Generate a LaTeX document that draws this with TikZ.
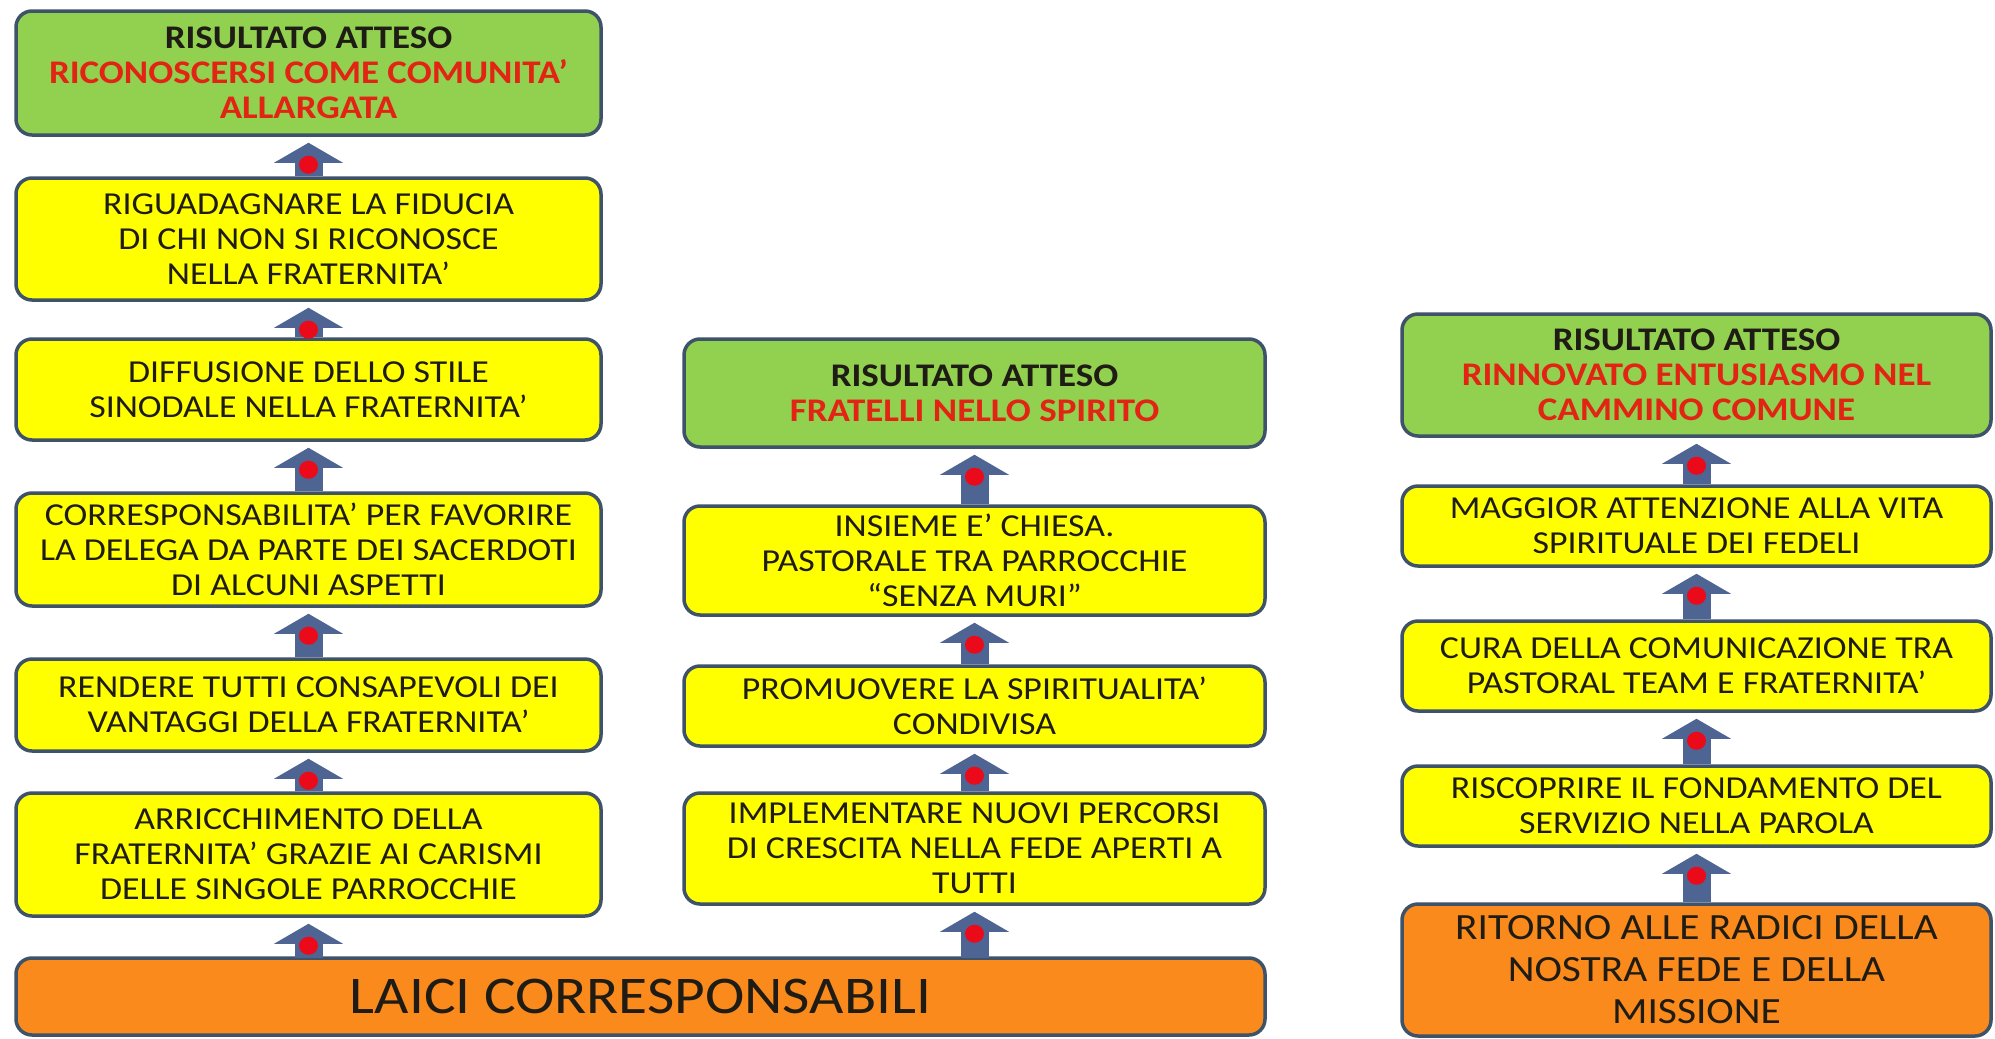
\documentclass[tikz,border=0pt]{standalone}
\usepackage{fontspec}
\setmainfont{Carlito}[FakeStretch=1.12]
\usetikzlibrary{arrows.meta}

\definecolor{boxline}{RGB}{62,82,106}
\definecolor{boxgreen}{RGB}{146,208,80}
\definecolor{boxyellow}{RGB}{255,255,0}
\definecolor{boxorange}{RGB}{250,138,28}
\definecolor{arrowblue}{RGB}{78,100,146}
\definecolor{dotred}{RGB}{235,10,25}
\definecolor{titlered}{RGB}{226,36,20}
\definecolor{textdark}{RGB}{30,28,20}

\tikzset{
  box/.style={draw=boxline, line width=3.5pt, rounded corners=16pt, align=center,
    inner sep=0pt, text=textdark, font=\fontsize{32}{35}\selectfont},
  greenbox/.style={box, fill=boxgreen, font=\fontsize{33}{35}\selectfont\bfseries},
  yellowbox/.style={box, fill=boxyellow},
  orangebox/.style={box, fill=boxorange},
  colA/.style={minimum width=585pt},
  colB/.style={minimum width=581pt},
  colC/.style={minimum width=589pt},
  blockarr/.style={draw=arrowblue, line width=28pt,
    -{Triangle[length=20pt 0, width=68pt 0]}},
}

% Blockpfeil von #1 nach #2
\newcommand{\blockup}[2]{%
  \draw[blockarr] (#1.north) -- ([yshift=-6pt]#2.south);
  \fill[dotred] ([yshift=-28pt]#2.south) ellipse (9.5pt and 9pt);}

\begin{document}
\begin{tikzpicture}[x=1pt, y=-1pt]
\useasboundingbox (0,0) rectangle (1995,1039);

% Spalte 1
\node[greenbox, colA, minimum height=124pt] (g1) at (308.5,73)
  {RISULTATO ATTESO\\ \textcolor{titlered}{RICONOSCERSI COME COMUNITA’}\\ \textcolor{titlered}{ALLARGATA}};
\node[yellowbox, colA, minimum height=122pt] (y1) at (308.5,239)
  {RIGUADAGNARE LA FIDUCIA\\ DI CHI NON SI RICONOSCE\\ NELLA FRATERNITA’};
\node[yellowbox, colA, minimum height=101pt] (y2) at (308.5,389.5)
  {DIFFUSIONE DELLO STILE\\ SINODALE NELLA FRATERNITA’};
\node[yellowbox, colA, minimum height=113pt] (y3) at (308.5,549.5)
  {CORRESPONSABILITA’ PER FAVORIRE\\ LA DELEGA DA PARTE DEI SACERDOTI\\ DI ALCUNI ASPETTI};
\node[yellowbox, colA, minimum height=92pt] (y4) at (308.5,705)
  {RENDERE TUTTI CONSAPEVOLI DEI\\ VANTAGGI DELLA FRATERNITA’};
\node[yellowbox, colA, minimum height=123pt] (y5) at (308.5,854.5)
  {ARRICCHIMENTO DELLA\\ FRATERNITA’ GRAZIE AI CARISMI\\ DELLE SINGOLE PARROCCHIE};

% Basis links
\node[orangebox, minimum width=1249pt, minimum height=77pt,
  font=\fontsize{53}{60}\selectfont] (laici) at (640.5,996.5) {LAICI CORRESPONSABILI};

% Spalte 2
\node[greenbox, colB, minimum height=108pt] (g2) at (974.5,393)
  {RISULTATO ATTESO\\ \textcolor{titlered}{FRATELLI NELLO SPIRITO}};
\node[yellowbox, colB, minimum height=109pt] (y6) at (974.5,560.5)
  {INSIEME E’ CHIESA.\\ PASTORALE TRA PARROCCHIE\\ “SENZA MURI”};
\node[yellowbox, colB, minimum height=80pt] (y7) at (974.5,706)
  {PROMUOVERE LA SPIRITUALITA’\\ CONDIVISA};
\node[yellowbox, colB, minimum height=111pt] (y8) at (974.5,848.5)
  {IMPLEMENTARE NUOVI PERCORSI\\ DI CRESCITA NELLA FEDE APERTI A\\ TUTTI};

% Spalte 3
\node[greenbox, colC, minimum height=122pt] (g3) at (1696.5,375)
  {RISULTATO ATTESO\\ \textcolor{titlered}{RINNOVATO ENTUSIASMO NEL}\\ \textcolor{titlered}{CAMMINO COMUNE}};
\node[yellowbox, colC, minimum height=80pt] (y9) at (1696.5,526)
  {MAGGIOR ATTENZIONE ALLA VITA\\ SPIRITUALE DEI FEDELI};
\node[yellowbox, colC, minimum height=90pt] (y10) at (1696.5,666)
  {CURA DELLA COMUNICAZIONE TRA\\ PASTORAL TEAM E FRATERNITA’};
\node[yellowbox, colC, minimum height=80pt] (y11) at (1696.5,806)
  {RISCOPRIRE IL FONDAMENTO DEL\\ SERVIZIO NELLA PAROLA};
\node[orangebox, colC, minimum height=132pt, font=\fontsize{37}{42}\selectfont] (o2) at (1696.5,970)
  {RITORNO ALLE RADICI DELLA\\ NOSTRA FEDE E DELLA\\ MISSIONE};

% Pfeile
\coordinate (base1) at (308.5,958);  % Fuss Spalte 1
\coordinate (base2) at (974.5,958);  % Fuss Spalte 2
\draw[blockarr] (base1) -- ([yshift=-6pt]y5.south);
\fill[dotred] ([yshift=-28pt]y5.south) ellipse (9.5pt and 9pt);
\blockup{y5}{y4}
\blockup{y4}{y3}
\blockup{y3}{y2}
\blockup{y2}{y1}
\blockup{y1}{g1}
\draw[blockarr] (base2) -- ([yshift=-6pt]y8.south);
\fill[dotred] ([yshift=-28pt]y8.south) ellipse (9.5pt and 9pt);
\blockup{y8}{y7}
\blockup{y7}{y6}
\blockup{y6}{g2}
\blockup{o2}{y11}
\blockup{y11}{y10}
\blockup{y10}{y9}
\blockup{y9}{g3}
\end{tikzpicture}
\end{document}
